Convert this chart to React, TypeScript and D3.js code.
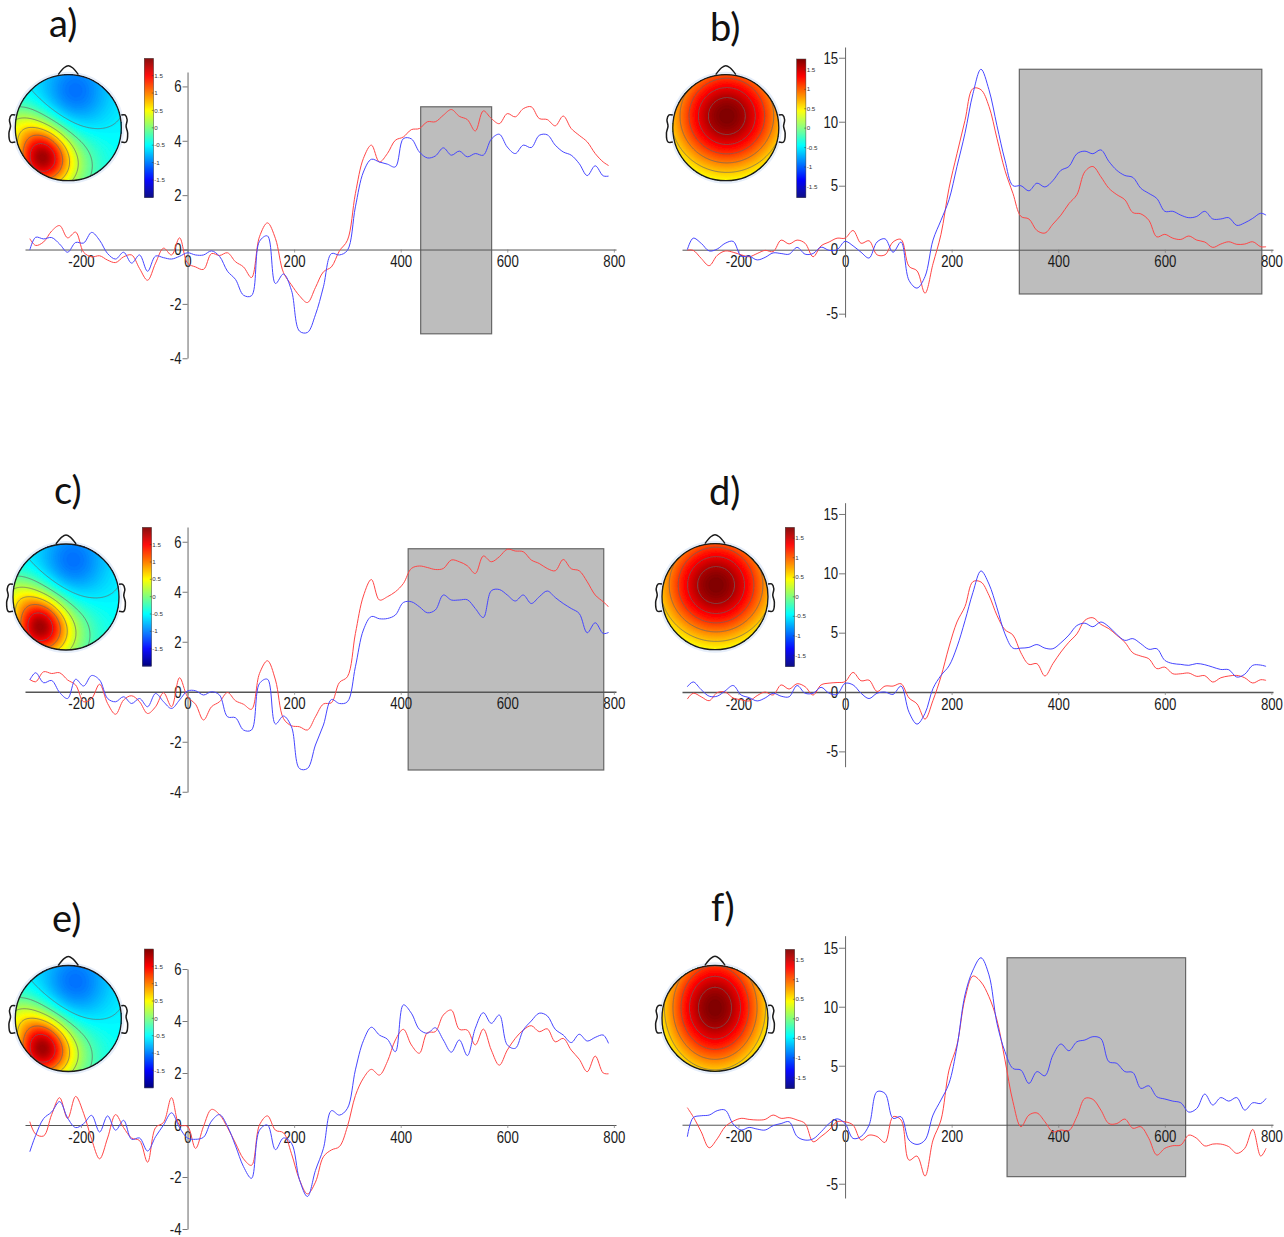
import React, { useEffect, useRef } from "react";
import * as d3 from "d3";

// sample times (ms) shared by every trace
const times = [
  -296, -285, -270, -255, -240, -225, -210, -195, -180, -165,
  -150, -135, -120, -105, -90, -75, -60, -45, -30, -15,
  0, 15, 30, 45, 60, 75, 90, 105, 120, 135,
  150, 165, 180, 195, 210, 225, 240, 255,
  270, 285, 300, 315, 330, 345, 360, 375, 390, 405, 420, 435,
  450, 465, 480, 495, 510, 525, 540, 555, 570, 585,
  600, 615, 630, 645, 660, 675, 690, 705, 720, 735, 750, 765, 780, 790,
];

const redA = [
  0.4, 0.15, 0.28, 0.68, 0.88, 0.43, 0.64, -0.1, -0.27, -0.23,
  -0.39, -0.48, -0.27, -0.2, -0.7, -1.13, -0.5, 0.05, -0.2, 0.43,
  -0.5, -0.64, -0.73, -0.15, -0.22, -0.12, -0.45, -0.64, -1.03, 0.47,
  0.98, 0.4, -0.85, -1.3, -1.7, -1.95, -1.4, -0.82,
  -0.64, -0.05, 0.34, 2.06, 3.35, 3.84, 3.22, 3.53, 4.02, 4.14, 4.41, 4.45,
  4.7, 4.7, 4.94, 5.15, 4.9, 4.78, 4.36, 5.1, 4.82, 4.63,
  5, 4.88, 5.18, 5.25, 4.82, 4.78, 4.55, 4.91, 4.45, 4.2, 3.96, 3.53, 3.22, 3.09,
];
const blueA = [
  -0.02, 0.45, 0.39, 0.44, 0.2, -0.1, 0.26, 0.24, 0.63, 0.34,
  -0.15, -0.35, -0.1, -0.5, -0.2, -0.8, -0.24, -0.3, -0.35, -0.25,
  -0.12, -0.2, -0.2, -0.05, -0.25, -0.8, -1.1, -1.68, -1.7, 0.3,
  0.5, -1.25, -0.9, -1.5, -3, -3.05, -2.4, -1.37,
  -0.15, -0.2, -0.03, 1.57, 2.85, 3.32, 3.22, 3.14, 3.04, 4.08, 4.07, 3.59,
  3.37, 3.44, 3.74, 3.47, 3.62, 3.41, 3.53, 3.47, 4.06, 4.24,
  3.77, 3.53, 3.84, 3.75, 4.2, 4.22, 3.84, 3.59, 3.47, 3.16, 2.72, 3.08, 2.71, 2.7,
];
const redB = [
  -0.03, -0.05, -0.68, -1.25, -0.45, -0.1, -0.2, -0.4, -0.55, -0.3,
  -0.05, -0.15, 0.75, 0.45, 0.75, 0.5, -0.55, 0.3, 0.6, 0.9,
  0.9, 1.5, 0.5, 0.7, -0.4, -0.4, 0.6, 0.8, -1.3, -1.65,
  -3.4, -1.1, 1.2, 4.8, 7.5, 10.1, 12.6, 12.5,
  11.2, 8.7, 6.2, 4.4, 2.6, 2.4, 1.5, 1.3, 2, 2.7, 3.6, 4.3,
  6.1, 6.5, 5.7, 4.8, 4.3, 3.9, 2.9, 2.8, 2.3, 1,
  1.2, 0.9, 0.8, 1.07, 0.75, 0.6, 0.18, 0.44, 0.62, 0.42, 0.44, 0.62, 0.23, 0.23,
];
const blueB = [
  0, 0.9, 0.5, -0.1, 0.05, 0.5, 0.65, -0.5, -0.5, -0.8,
  -0.6, -0.25, -0.3, -0.35, 0.18, -0.35, -0.3, 0.2, -0.05, 0,
  0.65, 0.3, -0.2, -0.65, 0.6, 0.85, -0.2, 0.6, -2.4, -3,
  -2.1, 0.75, 2.3, 3.9, 6.5, 9.1, 12.2, 14.1,
  12.5, 9.7, 7, 5, 5, 4.6, 5.2, 4.9, 5.4, 6.2, 6.5, 7.5,
  7.7, 7.5, 7.8, 6.9, 6.2, 5.8, 5.65, 4.8, 4.4, 4,
  3, 3, 2.7, 2.5, 2.6, 3, 2.4, 2.4, 2.5, 1.9, 2.1, 2.45, 2.85, 2.7,
];
const redC = [
  0.49, 0.4, 0.8, 0.73, 0.76, 0.47, 0.27, -0.4, -0.27, 0.3,
  -0.47, -0.9, -0.33, -0.16, -0.4, -0.87, -0.6, -0.04, -0.6, 0.56,
  -0.2, -0.5, -1.13, -0.6, -0.4, -0.03, -0.36, -0.5, -0.7, 0.73,
  1.24, 0.47, -1.07, -1.36, -1.4, -1.53, -1, -0.49,
  -0.44, 0.37, 0.6, 2.33, 3.83, 4.49, 3.67, 3.8, 4, 4.33, 4.93, 5.03,
  4.97, 4.89, 4.93, 5.27, 5.2, 5.04, 4.73, 5.43, 5.2, 5.4,
  5.7, 5.63, 5.6, 5.27, 5.13, 4.93, 4.84, 5.29, 4.92, 4.84, 4.4, 3.87, 3.6, 3.4,
];
const blueC = [
  0.47, 0.76, 0.36, 0.45, -0.03, -0.27, 0.5, 0.23, 0.65, 0.47,
  -0.27, -0.4, -0.2, -0.47, -0.27, -0.6, -0.07, -0.4, -0.67, -0.33,
  0.03, 0.04, -0.13, 0, -0.13, -1, -1.04, -1.53, -1.53, 0.33,
  0.5, -1.29, -0.97, -1.4, -3.07, -3.07, -2.13, -1.33,
  -0.31, -0.47, -0.4, 1, 2.47, 3.01, 2.92, 2.93, 3.07, 3.57, 3.6, 3.4,
  3.16, 3.27, 3.87, 3.67, 3.67, 3.68, 3.33, 2.97, 4.04, 4.09,
  3.87, 3.63, 3.87, 3.53, 3.8, 4.03, 3.77, 3.53, 3.33, 3.13, 2.36, 2.76, 2.33, 2.37,
];
const redD = [
  -0.59, -0.1, -0.4, -0.73, -0.05, 0, -0.5, -0.65, -0.75, -0.3,
  0, -0.25, 0.6, 0.25, 0.7, 0.45, -0.25, 0.6, 0.75, 0.8,
  0.87, 1.65, 0.95, 1, 0.05, 0.5, 0.5, 0.7, -0.5, -1,
  -2.28, -0.7, 1.3, 3.8, 5.9, 7.2, 9.3, 9.27,
  8.15, 6.46, 5.25, 4.8, 3.3, 2.33, 2.39, 1.35, 2.39, 3.37, 4.2, 4.9,
  6.04, 6.26, 5.7, 5.34, 4.78, 4.2, 3.3, 3.03, 2.8, 1.97,
  2.1, 1.54, 1.54, 1.6, 1.32, 1.38, 0.84, 1.2, 1.35, 1.4, 1.2, 0.76, 1.04, 0.98,
];
const blueD = [
  0.45, 0.85, 0.2, -0.35, -0.35, 0.1, 0.55, -0.25, -0.47, -0.75,
  -0.5, -0.1, -0.35, -0.4, 0.55, -0.1, -0.1, 0.4, -0.1, -0.2,
  0.73, 0.6, -0.1, -0.55, -0.1, 0, -0.2, 0.5, -1.7, -2.7,
  -1.8, 0.3, 1.4, 2.2, 3.8, 6, 8.4, 10.2,
  9.1, 7.1, 4.9, 3.7, 3.7, 3.76, 4, 3.7, 3.65, 4.15, 4.8, 5.6,
  5.8, 5.5, 5.9, 5.5, 4.85, 4.35, 4.5, 4.07, 3.6, 3.65,
  2.67, 2.4, 2.33, 2.25, 2.4, 2.3, 2.1, 1.9, 1.88, 1.26, 1.5, 2.25, 2.27, 2.16,
];
const redE = [
  0.13, -0.35, -0.42, 0.4, 1.05, 0.25, 1.1, 0.45, -0.55, -1.3,
  -0.5, 0.4, -0.1, -0.5, -0.6, -1.43, -0.1, 0.1, 1.05, 0,
  -0.05, -0.9, -0.05, 0.6, 0.4, -0.1, -0.7, -1.3, -1.55, 0,
  0.35, -0.2, -0.3, -1.1, -2.1, -2.65, -2.2, -1.22,
  -0.96, -0.83, -0.06, 1.13, 1.8, 2.14, 1.92, 2.44, 3.27, 3.68, 3.08, 2.76,
  3.55, 3.59, 4.23, 4.42, 3.68, 3.65, 3.08, 3.69, 2.88, 2.3,
  2.88, 3.33, 3.65, 3.82, 3.59, 3.7, 3.2, 3.33, 2.88, 2.53, 2.05, 2.65, 2, 1.97,
];
const blueE = [
  -1.03, -0.4, 0.25, 0.5, 0.9, 0.27, -0.1, 0.05, 0.37, -0.27,
  0.35, -0.2, 0.18, -0.55, -0.5, -1, -0.45, 0, 0.47, -0.1,
  -0.5, -0.55, -0.47, 0.15, 0.4, -0.05, -0.8, -1.6, -2.05, -0.2,
  0, -0.95, -0.5, -0.7, -2.1, -2.75, -1.75, -0.9,
  0.55, 0.38, 0.64, 2.12, 3.24, 3.76, 3.46, 3.3, 2.82, 4.62, 4.3, 3.68,
  3.53, 3.74, 3.27, 2.8, 3.27, 2.67, 3.72, 4.32, 3.91, 4.23,
  3.08, 2.95, 3.65, 4, 4.3, 4.2, 3.68, 3.46, 3.17, 3.49, 3.23, 3.37, 3.46, 3.14,
];
const redF = [
  1.45, 0.68, -0.6, -1.95, -1.2, -0.17, 0.3, 0.54, 0.45, 0.4,
  0.45, 0.82, 0.54, 0.6, 0.4, 0.1, -1.44, -1, -0.45, 0.25,
  0.25, -0.03, -1.3, -0.88, -1, -1.5, 0.68, 0.4, -3, -2.66,
  -4.35, -1.3, 0.4, 4.63, 6.75, 10.7, 12.6, 12.1,
  10.85, 8.87, 5.5, 1.95, -0.17, 0.82, 1, 0.25, -0.6, -0.45, -0.5, 0.68,
  2.23, 2.15, 1.24, 0.1, 0.1, 0.48, -0.3, -0.17, -1.16, -2.57,
  -2, -1.78, -1.72, -0.88, -1.16, -1.8, -1.64, -1.64, -1.86, -2.43, -2, -0.4, -2.66, -2,
];
const blueF = [
  -1.02, 0.6, 0.76, 0.82, 1.19, 1.24, 0.06, -0.45, -0.23, -0.37,
  -0.45, -0.08, 0.1, 0.25, -1, -1.3, -1.2, -0.6, 0.1, 0.5,
  0.1, -1.16, -1, -0.03, 2.8, 2.65, 0.54, 0.68, -1.3, -1.67,
  -1.3, 0.82, 2.1, 3.5, 6.6, 11, 13.1, 14.15,
  12.7, 8.6, 6.2, 4.77, 4.63, 3.5, 4.5, 4.15, 5.9, 6.84, 6.27, 7.03,
  7.18, 7.46, 7.3, 5.34, 5.2, 4.5, 4.43, 3.08, 3.3, 2.37,
  2.18, 2, 1.86, 1.07, 1.38, 2.6, 1.67, 2.3, 2, 2.3, 1.24, 1.86, 1.8, 2.23,
];

const xTicks = [-200, 0, 200, 400, 600, 800];
const yTicksSmall = [-4, -2, 0, 2, 4, 6];
const yTicksLarge = [-5, 0, 5, 10, 15];
const barTicks = [1.5, 1, 0.5, 0, -0.5, -1, -1.5];

// scalp maps: sum of a few gaussian bumps, [x, y, amplitude, sigma x, sigma y]
const lateralBumps = [
  [-0.5, -0.5, 1.3, 0.32, 0.38],
  [-0.4, -0.7, 1.15, 0.55, 0.45],
  [-0.95, 0.05, 0.6, 0.35, 0.3],
  [0.13, 0.68, -0.55, 0.45, 0.5],
];
const centralBumps = [[0.02, 0.22, 1.9, 0.78, 0.78]];
const centralTallBumps = [[0.0, 0.2, 1.9, 0.7, 0.86]];

const lateralLevels = [-0.55, -0.15, 0.25, 0.65, 1.05, 1.5];
const centralLevels = [0.65, 0.9, 1.15, 1.4, 1.62];

const panels = [
  {
    label: "a)", labelX: 49, labelY: 37, red: redA, blue: blueA, yTicks: yTicksSmall, tickLen: 5,
    xDomain: [-305, 804], xRange: [25, 616], yDomain: [-3.99, 6.53], yRange: [358, 72], axisWidth: 1,
    shade: [437.5, 570.6, -3.1, 5.25],
    map: { cx: 68.3, cy: 127.7, bumps: lateralBumps, base: -0.5, lim: 2, levels: lateralLevels },
    bar: { x: 144.3, top: 58.3, bottom: 197.3 },
  },
  {
    label: "b)", labelX: 710, labelY: 41, red: redB, blue: blueB, yTicks: yTicksLarge, tickLen: 6,
    xDomain: [-306, 803], xRange: [682, 1273], yDomain: [-5.26, 15.84], yRange: [317, 47], axisWidth: 1,
    shade: [327, 782, -3.46, 14.1],
    map: { cx: 725.8, cy: 127.7, bumps: centralBumps, base: -0.1, lim: 1.78, levels: centralLevels },
    bar: { x: 796.7, top: 59, bottom: 197.3 },
  },
  {
    label: "c)", labelX: 54, labelY: 504, red: redC, blue: blueC, yTicks: yTicksSmall, tickLen: 5,
    xDomain: [-305, 804], xRange: [25, 616], yDomain: [-4.01, 6.59], yRange: [792, 527], axisWidth: 1.6,
    shade: [414, 781, -3.13, 5.72],
    map: { cx: 66, cy: 597, bumps: lateralBumps, base: -0.5, lim: 2, levels: lateralLevels },
    bar: { x: 142.3, top: 527.3, bottom: 666 },
  },
  {
    label: "d)", labelX: 709, labelY: 505, red: redD, blue: blueD, yTicks: yTicksLarge, tickLen: 6,
    xDomain: [-306, 803], xRange: [682, 1273], yDomain: [-6.29, 15.95], yRange: [766.7, 502.7], axisWidth: 1.6,
    shade: null,
    map: { cx: 715, cy: 596.7, bumps: centralBumps, base: -0.1, lim: 1.78, levels: centralLevels },
    bar: { x: 785.3, top: 527.3, bottom: 666.3 },
  },
  {
    label: "e)", labelX: 52, labelY: 932, red: redE, blue: blueE, yTicks: yTicksSmall, tickLen: 5,
    xDomain: [-305, 804], xRange: [25, 616], yDomain: [-4, 6], yRange: [1229, 969], axisWidth: 1,
    shade: null,
    map: { cx: 68.3, cy: 1018.5, bumps: lateralBumps, base: -0.5, lim: 2, levels: lateralLevels },
    bar: { x: 144.3, top: 949, bottom: 1087.7 },
  },
  {
    label: "f)", labelX: 711, labelY: 921, red: redF, blue: blueF, yTicks: yTicksLarge, tickLen: 6,
    xDomain: [-306, 803], xRange: [682, 1273], yDomain: [-6.21, 16.02], yRange: [1198, 935.7], axisWidth: 1,
    shade: [304, 639, -4.4, 14.15],
    map: { cx: 715, cy: 1018.3, bumps: centralTallBumps, base: -0.1, lim: 1.78, levels: centralLevels },
    bar: { x: 785.4, top: 949.3, bottom: 1088.3 },
  },
];

const HEAD_R = 53;
const SQUEEZE = 0.8; // the axis labels are a condensed face

const jet = d3.piecewise(d3.interpolateRgb, ["#00007f", "#0000ff", "#00ffff", "#ffff00", "#ff0000", "#7f0000"]);
// jet spends 1/8 on each dark end, 1/4 on the rest
const jetAt = d3.scaleLinear<number>().domain([0, 0.125, 0.375, 0.625, 0.875, 1]).range([0, 0.2, 0.4, 0.6, 0.8, 1]);

function drawMap(g, map) {
  const n = 110;
  const span = 1.06;
  const field = new Float64Array(n * n);
  for (let j = 0; j < n; j++) {
    for (let i = 0; i < n; i++) {
      const x = ((i + 0.5) / n) * 2 * span - span;
      const y = span - ((j + 0.5) / n) * 2 * span;
      let v = map.base;
      for (const [bx, by, amp, sx, sy] of map.bumps) {
        v += amp * Math.exp(-((x - bx) ** 2) / (2 * sx * sx) - (y - by) ** 2 / (2 * sy * sy));
      }
      field[j * n + i] = v;
    }
  }
  const color = (v) => jet(jetAt((v + map.lim) / (2 * map.lim)));
  const contours = d3.contours().size([n, n]);
  const path = d3.geoPath();
  const id = `clip-${Math.round(map.cx)}-${Math.round(map.cy)}`;

  g.append("circle").attr("cx", map.cx).attr("cy", map.cy).attr("r", HEAD_R + 3).attr("fill", "#e6eefa");
  g.append("clipPath").attr("id", id).append("circle").attr("cx", map.cx).attr("cy", map.cy).attr("r", HEAD_R);

  const k = (2 * span * HEAD_R) / n;
  const inner = g
    .append("g")
    .attr("clip-path", `url(#${id})`)
    .append("g")
    .attr("transform", `translate(${map.cx - span * HEAD_R},${map.cy - span * HEAD_R}) scale(${k})`);

  inner
    .selectAll("path.band")
    .data(contours.thresholds(d3.range(-2.4, 2.4, 0.03))(field))
    .join("path")
    .attr("class", "band")
    .attr("d", path)
    .attr("fill", (d) => color(d.value))
    .attr("stroke", (d) => color(d.value))
    .attr("stroke-width", 0.3);

  inner
    .selectAll("path.iso")
    .data(contours.thresholds(map.levels)(field))
    .join("path")
    .attr("class", "iso")
    .attr("d", path)
    .attr("fill", "none")
    .attr("stroke", "#666")
    .attr("stroke-opacity", 0.85)
    .attr("stroke-width", 0.8)
    .attr("vector-effect", "non-scaling-stroke");

  g.append("circle")
    .attr("cx", map.cx)
    .attr("cy", map.cy)
    .attr("r", HEAD_R)
    .attr("fill", "none")
    .attr("stroke", "#1a1a1a")
    .attr("stroke-width", 1.3);

  const outline = d3
    .line()
    .x((d) => map.cx + d[0] * HEAD_R)
    .y((d) => map.cy - d[1] * HEAD_R)
    .curve(d3.curveCatmullRom);
  const nose = [[-0.19, 1], [-0.08, 1.13], [0, 1.17], [0.08, 1.13], [0.19, 1]];
  const ear = [[-1, 0.24], [-1.07, 0.24], [-1.11, 0.15], [-1.09, 0.03], [-1.12, -0.1], [-1.09, -0.27], [-1, -0.27]];
  g.append("path").attr("d", outline(nose)).attr("fill", "none").attr("stroke", "#1a1a1a").attr("stroke-width", 1.4);
  g.append("path").attr("d", outline(ear)).attr("fill", "none").attr("stroke", "#1a1a1a").attr("stroke-width", 1.5);
  g.append("path")
    .attr("d", outline(ear.map(([x, y]) => [-x, y])))
    .attr("fill", "none")
    .attr("stroke", "#1a1a1a")
    .attr("stroke-width", 1.5);
}

function drawBar(g, bar, lim) {
  const y = d3.scaleLinear().domain([-lim, lim]).range([bar.bottom, bar.top]);
  const steps = d3.range(0, 1, 1 / 140);
  g.selectAll("rect.step")
    .data(steps)
    .join("rect")
    .attr("class", "step")
    .attr("x", bar.x)
    .attr("width", 9.2)
    .attr("y", (d) => y(-lim + (d + 1 / 140) * 2 * lim))
    .attr("height", ((bar.bottom - bar.top) / 140) + 0.5)
    .attr("fill", (d) => jet(jetAt(d)));
  g.append("rect")
    .attr("x", bar.x)
    .attr("y", bar.top)
    .attr("width", 9.2)
    .attr("height", bar.bottom - bar.top)
    .attr("fill", "none")
    .attr("stroke", "#444")
    .attr("stroke-width", 0.5);
  const ticks = g.selectAll("g.bartick").data(barTicks).join("g").attr("class", "bartick");
  ticks
    .append("line")
    .attr("x1", bar.x + 7.5)
    .attr("x2", bar.x + 9.2)
    .attr("y1", (d) => y(d))
    .attr("y2", (d) => y(d))
    .attr("stroke", "#333")
    .attr("stroke-width", 0.5);
  ticks
    .append("text")
    .attr("x", bar.x + 10)
    .attr("y", (d) => y(d))
    .attr("dy", "0.35em")
    .attr("font-family", "'Liberation Sans', sans-serif")
    .attr("font-size", 6.2)
    .attr("fill", "#333")
    .text((d) => d);
}

function drawPanel(root, p) {
  const g = root.append("g");
  const x = d3.scaleLinear().domain(p.xDomain).range(p.xRange);
  const y = d3.scaleLinear().domain(p.yDomain).range(p.yRange);

  g.append("text")
    .attr("x", p.labelX)
    .attr("y", p.labelY)
    .attr("font-family", "Lato, sans-serif")
    .attr("font-size", 38)
    .attr("fill", "#111")
    .text(p.label);

  if (p.shade) {
    const [t0, t1, v0, v1] = p.shade;
    g.append("rect")
      .attr("x", x(t0))
      .attr("y", y(v1))
      .attr("width", x(t1) - x(t0))
      .attr("height", y(v0) - y(v1))
      .attr("fill", "#bdbdbd")
      .attr("stroke", "#666")
      .attr("stroke-width", 1.2);
  }

  const xAxis = d3.axisBottom(x).tickValues(xTicks).tickSize(3).tickSizeOuter(0).tickPadding(3).tickFormat((d) => String(d));
  const yAxis = d3.axisLeft(y).tickValues(p.yTicks).tickSize(p.tickLen).tickSizeOuter(0).tickPadding(1).tickFormat((d) => String(d));

  const gx = g.append("g").attr("transform", `translate(0,${y(0)})`).call(xAxis);
  const gy = g.append("g").attr("transform", `translate(${x(0)},0)`).call(yAxis);
  gx.select(".domain").attr("stroke", "#555").attr("stroke-width", p.axisWidth);
  gy.select(".domain").attr("stroke", "#666").attr("stroke-width", 1);
  gx.selectAll(".tick line").attr("stroke", "#777").attr("stroke-width", 0.7);
  gy.selectAll(".tick line").attr("stroke", "#555").attr("stroke-width", 0.8);
  for (const ax of [gx, gy]) {
    ax.selectAll(".tick text")
      .attr("font-family", "'Liberation Sans', sans-serif")
      .attr("font-size", 16.5)
      .attr("fill", "#1a1a1a")
      .attr("transform", `scale(${SQUEEZE},1)`);
  }
  // undo the squeeze on the label's offset from the y axis
  gy.selectAll(".tick text").attr("x", -(p.tickLen + 1) / SQUEEZE);

  const line = d3
    .line()
    .x((d) => x(d[0]))
    .y((d) => y(d[1]))
    .curve(d3.curveCatmullRom.alpha(0.5));
  g.append("path")
    .attr("d", line(d3.zip(times, p.red)))
    .attr("fill", "none")
    .attr("stroke", "#ff4646")
    .attr("stroke-width", 1);
  g.append("path")
    .attr("d", line(d3.zip(times, p.blue)))
    .attr("fill", "none")
    .attr("stroke", "#4646ff")
    .attr("stroke-width", 1);

  drawMap(g.append("g").attr("filter", "url(#soft)"), p.map);
  drawBar(g.append("g"), p.bar, p.map.lim);
}

export default function App() {
  const ref = useRef<SVGSVGElement>(null);

  useEffect(() => {
    const svg = d3.select(ref.current);
    svg.selectAll("*").remove();
    svg
      .append("defs")
      .append("filter")
      .attr("id", "soft")
      .append("feGaussianBlur")
      .attr("stdDeviation", 0.4);
    panels.forEach((p) => drawPanel(svg, p));
  }, []);

  return (
    <svg
      ref={ref}
      width={1284}
      height={1237}
      style={{ position: "absolute", left: 0, top: 0, background: "#fff" }}
    />
  );
}
